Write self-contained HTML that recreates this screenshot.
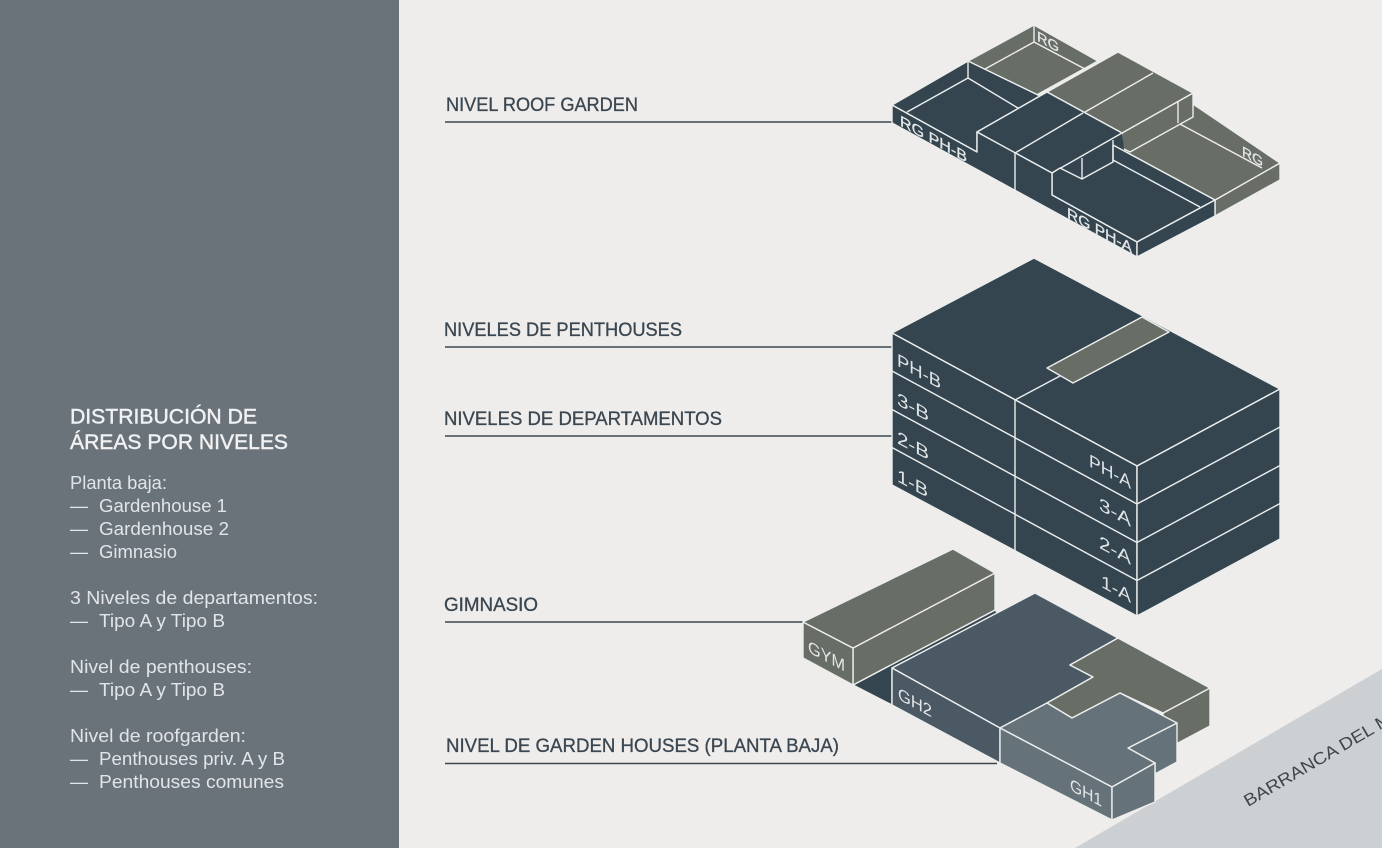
<!DOCTYPE html>
<html>
<head>
<meta charset="utf-8">
<style>
  html, body { margin: 0; padding: 0; }
  body { width: 1382px; height: 848px; overflow: hidden; background: #efedeb; }
  svg { display: block; }
</style>
</head>
<body>
<svg width="1382" height="848" viewBox="0 0 1382 848" xmlns="http://www.w3.org/2000/svg" font-family="'Liberation Sans', sans-serif">
  <!-- backgrounds -->
  <rect x="0" y="0" width="1382" height="848" fill="#efedeb"/>
  <rect x="0" y="0" width="399" height="848" fill="#6b737a"/>

  <!-- Barranca ground -->
  <polygon points="1075,848 1382,669 1382,848" fill="#cdd0d3"/>
  <text transform="translate(1248,807) rotate(-30.3)" font-size="17" fill="#3d464d" textLength="168" lengthAdjust="spacingAndGlyphs">BARRANCA DEL M</text>

  <!-- LEFT PANEL TEXT -->
  <g fill="#f1f2f3">
    <text x="70" y="423.5" font-size="21" textLength="187" lengthAdjust="spacingAndGlyphs" stroke="#f1f2f3" stroke-width="0.45">DISTRIBUCIÓN DE</text>
    <text x="70" y="449" font-size="21" textLength="218" lengthAdjust="spacingAndGlyphs" stroke="#f1f2f3" stroke-width="0.45">ÁREAS POR NIVELES</text>
  </g>
  <g fill="#e2e5e8" font-size="18">
    <text x="70" y="489" textLength="97" lengthAdjust="spacingAndGlyphs">Planta baja:</text>
    <text x="70" y="512" textLength="18" lengthAdjust="spacingAndGlyphs">—</text>
    <text x="99" y="512" textLength="128" lengthAdjust="spacingAndGlyphs">Gardenhouse 1</text>
    <text x="70" y="535" textLength="18" lengthAdjust="spacingAndGlyphs">—</text>
    <text x="99" y="535" textLength="130" lengthAdjust="spacingAndGlyphs">Gardenhouse 2</text>
    <text x="70" y="558" textLength="18" lengthAdjust="spacingAndGlyphs">—</text>
    <text x="99" y="558" textLength="78" lengthAdjust="spacingAndGlyphs">Gimnasio</text>

    <text x="70" y="604" textLength="248" lengthAdjust="spacingAndGlyphs">3 Niveles de departamentos:</text>
    <text x="70" y="627" textLength="18" lengthAdjust="spacingAndGlyphs">—</text>
    <text x="99" y="627" textLength="126" lengthAdjust="spacingAndGlyphs">Tipo A y Tipo B</text>

    <text x="70" y="673" textLength="182" lengthAdjust="spacingAndGlyphs">Nivel de penthouses:</text>
    <text x="70" y="696" textLength="18" lengthAdjust="spacingAndGlyphs">—</text>
    <text x="99" y="696" textLength="126" lengthAdjust="spacingAndGlyphs">Tipo A y Tipo B</text>

    <text x="70" y="742" textLength="176" lengthAdjust="spacingAndGlyphs">Nivel de roofgarden:</text>
    <text x="70" y="765" textLength="18" lengthAdjust="spacingAndGlyphs">—</text>
    <text x="99" y="765" textLength="186" lengthAdjust="spacingAndGlyphs">Penthouses priv. A y B</text>
    <text x="70" y="788" textLength="18" lengthAdjust="spacingAndGlyphs">—</text>
    <text x="99" y="788" textLength="185" lengthAdjust="spacingAndGlyphs">Penthouses comunes</text>
  </g>

  <!-- HEADERS + LEADER LINES -->
  <g fill="#3a4650" font-size="19" stroke="#3a4650" stroke-width="0.3">
    <text x="446" y="111" textLength="192" lengthAdjust="spacingAndGlyphs">NIVEL ROOF GARDEN</text>
    <text x="444" y="336" textLength="238" lengthAdjust="spacingAndGlyphs">NIVELES DE PENTHOUSES</text>
    <text x="444" y="425" textLength="278" lengthAdjust="spacingAndGlyphs">NIVELES DE DEPARTAMENTOS</text>
    <text x="444" y="611" textLength="94" lengthAdjust="spacingAndGlyphs">GIMNASIO</text>
    <text x="446" y="752" textLength="393" lengthAdjust="spacingAndGlyphs">NIVEL DE GARDEN HOUSES (PLANTA BAJA)</text>
  </g>
  <g stroke="#3a4650" stroke-width="1.6">
    <line x1="445" y1="122" x2="892" y2="122"/>
    <line x1="445" y1="347" x2="892" y2="347"/>
    <line x1="445" y1="436" x2="892" y2="436"/>
    <line x1="445" y1="622" x2="803" y2="622"/>
    <line x1="445" y1="763.5" x2="997" y2="763.5"/>
  </g>

  <!-- ROOF GARDEN -->
  <g stroke="#eceeed" stroke-width="1.4" stroke-linejoin="round">
    <!-- RG right slab -->
    <polygon fill="#686d66" points="1215,200 1280,163 1280,180 1215,216"/>
    <polygon fill="#686d66" points="1113,145 1193,104 1280,163 1215,200"/>
    <polyline fill="none" points="1130,150 1178,123 1262,168"/>
    <!-- tall gray block -->
    <polygon fill="#686d66" points="1122,133 1193,93 1193,117 1130,152 1122,148"/>
    <line x1="1178" y1="101" x2="1178" y2="123"/>
    <polygon fill="#686d66" points="1047,92 1118,52 1193,93 1122,133"/>
    <line x1="1085" y1="112" x2="1153" y2="73"/>
    <!-- back gray RG -->
    <polygon fill="#686d66" points="968,61 1034,25 1098,61 1033,97"/>
    <polyline fill="none" points="985,69 1034,42 1085,69"/>
    <line x1="1034" y1="25" x2="1034" y2="42"/>
    <!-- PH-B top -->
    <polygon fill="#34454f" points="892,105 968,61 1040,96 977,132 977,152"/>
    <polyline fill="none" points="907,112 968,78 1018,108"/>
    <line x1="968" y1="61" x2="968" y2="78"/>
    <!-- notch fill (dark) -->
    <polygon fill="#34454f" stroke="none" points="1050,173 1122,131 1124,150 1113,164 1082,181 1060,170"/>
    <!-- tall dark block top -->
    <polygon fill="#34454f" points="977,132 1047,92 1122,133 1052,173"/>
    <line x1="1015" y1="153" x2="1083" y2="113"/>
    <!-- PH-A top -->
    <polygon fill="#34454f" points="1052,195 1137,242 1215,200 1113,145 1113,162 1082,179 1060,168 1052,173"/>
    <line x1="1082" y1="158" x2="1082" y2="179"/>
    <line x1="1113" y1="140" x2="1113" y2="162"/>
    <line x1="1113" y1="160" x2="1200" y2="207"/>
    <!-- left faces -->
    <polygon fill="#34454f" points="892,105 977,152 977,132 1052,173 1052,195 1137,242 1137,257 892,123"/>
    <line x1="1015" y1="153" x2="1015" y2="190"/>
    <!-- PH-A right face -->
    <polygon fill="#34454f" points="1137,242 1215,200 1215,216 1137,257"/>
  </g>
  <g fill="#e4e7e8" stroke="#e4e7e8" stroke-width="0.3">
    <text transform="translate(900,125.5) skewY(29)" font-size="15" textLength="67" lengthAdjust="spacingAndGlyphs">RG PH-B</text>
    <text transform="translate(1067,217.5) skewY(29)" font-size="15" textLength="65" lengthAdjust="spacingAndGlyphs">RG PH-A</text>
    <text transform="translate(1037,40.5) skewY(29)" font-size="14" textLength="22" lengthAdjust="spacingAndGlyphs">RG</text>
    <text transform="translate(1242,155.5) skewY(29)" font-size="14" textLength="21" lengthAdjust="spacingAndGlyphs">RG</text>
  </g>

  <!-- MIDDLE BLOCK (PH + DEPARTAMENTOS) -->
  <g stroke="#eceeed" stroke-width="1.4" stroke-linejoin="round">
    <polygon fill="#34454f" points="892,333 1034,258 1280,389 1137,466"/>
    <polygon fill="#34454f" points="892,333 1137,466 1137,616 892,485"/>
    <polygon fill="#34454f" points="1137,466 1280,389 1280,539 1137,616"/>
    <line x1="892" y1="371" x2="1137" y2="504"/>
    <line x1="892" y1="409.5" x2="1137" y2="542.5"/>
    <line x1="892" y1="447.5" x2="1137" y2="580.5"/>
    <line x1="1137" y1="504" x2="1280" y2="427"/>
    <line x1="1137" y1="542.5" x2="1280" y2="465.5"/>
    <line x1="1137" y1="580.5" x2="1280" y2="503.5"/>
    <line x1="1015" y1="400" x2="1015" y2="551"/>
    <line x1="1015" y1="400" x2="1060" y2="376"/>
    <polygon fill="#686d66" points="1047,368 1142,317 1169,332 1073,383"/>
  </g>
  <g fill="#dfe3e5" font-size="18">
    <text transform="translate(897,365.5) skewY(28.5)" textLength="44" lengthAdjust="spacingAndGlyphs">PH-B</text>
    <text transform="translate(897,404.5) skewY(28.5)" textLength="32" lengthAdjust="spacingAndGlyphs">3-B</text>
    <text transform="translate(897,443) skewY(28.5)" textLength="32" lengthAdjust="spacingAndGlyphs">2-B</text>
    <text transform="translate(897,481) skewY(28.5)" textLength="31" lengthAdjust="spacingAndGlyphs">1-B</text>
    <text transform="translate(1131,489) skewY(28.5)" text-anchor="end" textLength="42" lengthAdjust="spacingAndGlyphs">PH-A</text>
    <text transform="translate(1131,527) skewY(28.5)" text-anchor="end" textLength="32" lengthAdjust="spacingAndGlyphs">3-A</text>
    <text transform="translate(1131,565) skewY(28.5)" text-anchor="end" textLength="32" lengthAdjust="spacingAndGlyphs">2-A</text>
    <text transform="translate(1131,603) skewY(28.5)" text-anchor="end" textLength="30" lengthAdjust="spacingAndGlyphs">1-A</text>
  </g>

  <!-- GROUND LEVEL -->
  <g stroke="#eceeed" stroke-width="1.4" stroke-linejoin="round">
    <!-- dark wedge behind GYM -->
    <polygon fill="#34454f" points="853,685 995,610 998,613 892,668 892,705"/>
    <!-- GH2 -->
    <polygon fill="#4b5965" points="892,668 1035,593 1118,638 1070,665 1093,677 1047,703 1000,728"/>
    <polygon fill="#4b5965" points="892,668 1000,728 1000,763 892,705"/>
    <!-- gray L -->
    <polygon fill="#686d66" points="1163,713 1210,688 1210,726 1163,751"/>
    <polygon fill="#686d66" points="1118,638 1210,688 1163,713 1120,693 1072,718 1047,703 1093,677 1070,665"/>
    <!-- GH1 -->
    <polygon fill="#66727a" points="1128,748 1177,723 1177,762 1155,774 1155,763"/>
    <polygon fill="#66727a" points="1000,728 1047,703 1072,718 1120,693 1177,723 1128,748 1155,763 1112,787"/>
    <polygon fill="#66727a" points="1000,728 1112,787 1112,820 1000,763"/>
    <polygon fill="#66727a" points="1112,787 1155,763 1155,802 1112,820"/>
    <!-- GYM -->
    <polygon fill="#686d66" points="853,648 995,573 995,610 853,685"/>
    <polygon fill="#686d66" points="803,622 853,648 853,685 803,658"/>
    <polygon fill="#686d66" points="803,622 953,549 995,573 853,648"/>
  </g>
  <g fill="#e4e7e8" font-size="17">
    <text transform="translate(808,652) skewY(28)" textLength="37" lengthAdjust="spacingAndGlyphs">GYM</text>
    <text transform="translate(898,699) skewY(28.5)" textLength="34" lengthAdjust="spacingAndGlyphs">GH2</text>
    <text transform="translate(1070,790) skewY(28)" textLength="32" lengthAdjust="spacingAndGlyphs">GH1</text>
  </g>
</svg>
</body>
</html>
